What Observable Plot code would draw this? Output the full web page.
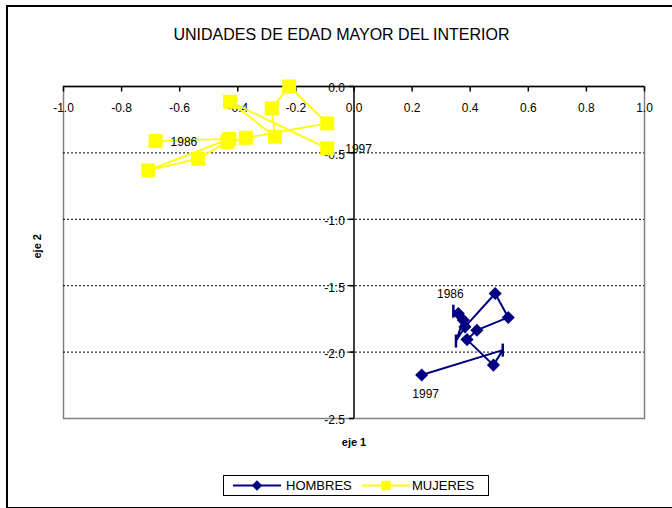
<!DOCTYPE html>
<html>
<head>
<meta charset="utf-8">
<script src="https://cdn.jsdelivr.net/npm/d3@7"></script>
<script src="https://cdn.jsdelivr.net/npm/@observablehq/plot@0.6"></script>
<style>
  html, body { margin: 0; padding: 0; background: white; }
  #wrap { position: relative; width: 672px; height: 508px; overflow: hidden; font-family: "Liberation Sans", Arial, sans-serif; }
  #frame { position: absolute; left: 6px; top: 5px; width: 700px; height: 500px; border: 2px solid black; pointer-events: none; z-index: 5; }
  #title { position: absolute; left: 0; width: 683px; top: 26px; text-align: center; font-size: 16px; color: black; }
  #chart { position: absolute; left: 0; top: 60px; }
  #legend { position: absolute; left: 223px; top: 475px; width: 264px; height: 19px; border: 1px solid black; font-size: 13px; }
  #legend span { position: absolute; top: 2px; }
  #legend svg { position: absolute; top: 0; }
</style>
</head>
<body>
<div id="wrap">
  <div id="title">UNIDADES DE EDAD MAYOR DEL INTERIOR</div>
  <div id="chart"></div>
  <div id="legend"></div>
  <div id="frame"></div>
</div>
<script>
// ---- data ----
const years = [1986, 1987, 1988, 1989, 1990, 1991, 1992, 1993, 1994, 1995, 1996, 1997];
const hombresX = [0.342, 0.359, 0.376, 0.351, 0.382, 0.486, 0.531, 0.423, 0.389, 0.480, 0.512, 0.233];
const hombresY = [-1.692, -1.709, -1.759, -1.917, -1.810, -1.559, -1.739, -1.835, -1.906, -2.098, -1.985, -2.173];
const hombresMarker = ["bar", "diamond", "diamond", "bar", "diamond", "diamond", "diamond", "diamond", "diamond", "diamond", "bar", "diamond"];
const mujeresX = [-0.683, -0.429, -0.708, -0.536, -0.436, -0.372, -0.092, -0.223, -0.283, -0.272, -0.427, -0.092];
const mujeresY = [-0.411, -0.395, -0.632, -0.544, -0.417, -0.386, -0.278, 0.0, -0.165, -0.378, -0.115, -0.466];
const seriesNames = ["HOMBRES", "MUJERES"];
const seriesColors = ["#000080", "#FFFF00"];
const xTicks = [-1.0, -0.8, -0.6, -0.4, -0.2, 0.0, 0.2, 0.4, 0.6, 0.8, 1.0];
const xTickLabels = ["-1.0", "-0.8", "-0.6", "-0.4", "-0.2", "0.0", "0.2", "0.4", "0.6", "0.8", "1.0"];
const yTicks = [0.0, -0.5, -1.0, -1.5, -2.0, -2.5];
const yTickLabels = ["0.0", "-0.5", "-1.0", "-1.5", "-2.0", "-2.5"];
const gridY = [-0.5, -1.0, -1.5, -2.0];
const title = "UNIDADES DE EDAD MAYOR DEL INTERIOR";
const xTitle = "eje 1";
const yTitle = "eje 2";

// ---- build tables ----
const hombres = years.map((year, i) => ({year, x: hombresX[i], y: hombresY[i], m: hombresMarker[i]}));
const mujeres = years.map((year, i) => ({year, x: mujeresX[i], y: mujeresY[i]}));
const firstYear = years[0], lastYear = years[years.length - 1];

const barSymbol = { draw(ctx, size) { ctx.rect(-1.25, -6.5, 2.5, 13); } };
const tickDown = { draw(ctx, size) { ctx.moveTo(0, 0); ctx.lineTo(0, 5); } };
const tickLeft = { draw(ctx, size) { ctx.moveTo(-5, 0); ctx.lineTo(0, 0); } };

const chart = Plot.plot({
  width: 672,
  height: 400,
  marginLeft: 63,
  marginRight: 28,
  marginTop: 26,
  marginBottom: 42,
  x: { domain: [-1, 1], axis: null },
  y: { domain: [-2.5, 0], axis: null },
  style: { fontFamily: "'Liberation Sans', Arial, sans-serif", fontSize: "12px", background: "transparent", color: "black", overflow: "visible" },
  marks: [
    Plot.frame({ stroke: "#808080", strokeWidth: 1.5 }),
    Plot.ruleY(gridY, { y: d => d, stroke: "black", strokeDasharray: "2,2", strokeWidth: 1 }),
    Plot.ruleY([0], { y: d => d, stroke: "black", strokeWidth: 1.5 }),
    Plot.ruleX([0], { x: d => d, stroke: "black", strokeWidth: 1.5 }),
    Plot.dot(xTicks, { x: d => d, y: 0, symbol: tickDown, stroke: "black", fill: "none", strokeWidth: 1.5 }),
    Plot.dot(yTicks, { x: 0, y: d => d, symbol: tickLeft, stroke: "black", fill: "none", strokeWidth: 1.5 }),
    Plot.text(xTicks, { x: d => d, y: 0, text: (d, i) => xTickLabels[i], dy: 22, fill: "black" }),
    Plot.text(yTicks, { x: 0, y: d => d, text: (d, i) => yTickLabels[i], textAnchor: "end", dx: -9, dy: 2, fill: "black" }),
    // MUJERES
    Plot.line(mujeres, { x: "x", y: "y", stroke: seriesColors[1], strokeWidth: 1.8 }),
    Plot.dot(mujeres, { x: "x", y: "y", symbol: "square", r: 7.9, fill: seriesColors[1], stroke: "none" }),
    // HOMBRES
    Plot.line(hombres, { x: "x", y: "y", stroke: seriesColors[0], strokeWidth: 2 }),
    Plot.dot(hombres, { filter: d => d.m === "diamond", x: "x", y: "y", symbol: "diamond2", r: 5.9, fill: seriesColors[0], stroke: "none" }),
    Plot.dot(hombres, { filter: d => d.m === "bar", x: "x", y: "y", symbol: barSymbol, fill: seriesColors[0], stroke: "none" }),
    // year labels
    Plot.text(mujeres, { filter: d => d.year === firstYear, x: "x", y: "y", text: d => String(d.year), textAnchor: "start", dx: 15, dy: 1, fill: "black" }),
    Plot.text(mujeres, { filter: d => d.year === lastYear, x: "x", y: "y", text: d => String(d.year), textAnchor: "start", dx: 18, dy: 1, fill: "black" }),
    Plot.text(hombres, { filter: d => d.year === firstYear, x: "x", y: "y", text: d => String(d.year), dx: -3, dy: -17, fill: "black" }),
    Plot.text(hombres, { filter: d => d.year === lastYear, x: "x", y: "y", text: d => String(d.year), dx: 4, dy: 19, fill: "black" }),
    // axis titles
    Plot.text([xTitle], { x: 0, frameAnchor: "bottom", dy: 27, text: d => d, fontWeight: "bold", fontSize: 11, fill: "black" }),
    Plot.text([yTitle], { frameAnchor: "left", dx: -26, dy: 6, text: d => d, rotate: -90, fontWeight: "bold", fontSize: 11, fill: "black" })
  ]
});
document.getElementById("chart").appendChild(chart);
document.getElementById("title").textContent = title;

// ---- legend ----
const legend = d3.select("#legend");
const legendItems = [
  { name: seriesNames[0], color: seriesColors[0], symbol: d3.symbolDiamond2, size: 70, lineLeft: 9, textLeft: 62 },
  { name: seriesNames[1], color: seriesColors[1], symbol: d3.symbolSquare, size: 90, lineLeft: 138, textLeft: 188 }
];
legendItems.forEach(it => {
  const s = legend.append("svg").attr("width", 48).attr("height", 19).style("left", it.lineLeft + "px");
  s.append("line").attr("x1", 0).attr("x2", 48).attr("y1", 9.5).attr("y2", 9.5).attr("stroke", it.color).attr("stroke-width", 1.8);
  s.append("path").attr("d", d3.symbol(it.symbol, it.size)()).attr("transform", "translate(24,9.5)").attr("fill", it.color);
  legend.append("span").style("left", it.textLeft + "px").text(it.name);
});
</script>
</body>
</html>
